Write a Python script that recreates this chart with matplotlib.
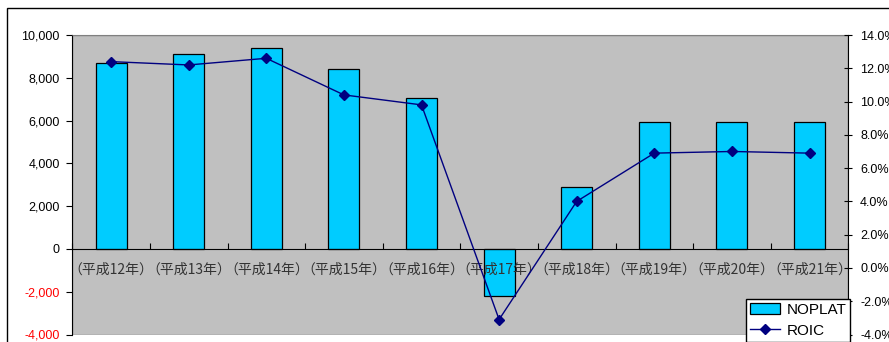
import numpy as np
import matplotlib
matplotlib.use("Agg")
import matplotlib.pyplot as plt
from matplotlib.patches import Rectangle
from matplotlib.lines import Line2D

plt.rcParams['font.family'] = ['Liberation Sans', 'Noto Sans CJK JP', 'DejaVu Sans']

# データ
years = ['（平成12年）', '（平成13年）', '（平成14年）', '（平成15年）', '（平成16年）',
         '（平成17年）', '（平成18年）', '（平成19年）', '（平成20年）', '（平成21年）']
noplat = [8670, 9100, 9400, 8400, 7050, -2200, 2890, 5950, 5950, 5950]
roic = [12.4, 12.2, 12.6, 10.4, 9.8, -3.1, 4.0, 6.9, 7.0, 6.9]

left_ticks = [-4000, -2000, 0, 2000, 4000, 6000, 8000, 10000]
right_ticks = [-4, -2, 0, 2, 4, 6, 8, 10, 12, 14]

fig = plt.figure(figsize=(8.89, 3.42), dpi=100)
ax = fig.add_axes([72.3 / 889, 1 - 334.5 / 342, 776 / 889, 299.5 / 342])

x = np.arange(len(years))
ax.bar(x, noplat, width=0.4, color='#00CCFF', edgecolor='black', linewidth=0.9, zorder=2)
ax.set_xlim(-0.5, len(years) - 0.5)
ax.set_ylim(-4000, 10000)
ax.set_facecolor('#C0C0C0')

# 軸の設定（ラベルは棒の上に描く）
ax.set_axisbelow(False)
ax.spines['bottom'].set_position(('data', 0))
ax.spines['bottom'].set_zorder(4)
ax.spines['top'].set_color('#808080')
ax.spines['right'].set_visible(False)
ax.set_xticks(x)
ax.set_xticklabels(years, fontsize=10, color='#333333', family=['Noto Sans CJK JP'])
ax.set_xticks(np.arange(len(years) + 1) - 0.5, minor=True)
ax.tick_params(axis='x', which='major', length=0, pad=10)
ax.tick_params(axis='x', which='minor', direction='in', length=4, width=0.8)

ax.set_yticks(left_ticks)
ax.set_yticklabels([f'{v:,}' for v in left_ticks], fontsize=9)
for lab, v in zip(ax.get_yticklabels(), left_ticks):
    lab.set_color('red' if v < 0 else 'black')
ax.tick_params(axis='y', direction='out', length=4, width=0.8, pad=5)

# 下の枠線
ax.add_patch(Rectangle((0, 0), 1, 1, transform=ax.transAxes, fill=False,
                       edgecolor='#808080', linewidth=1, zorder=0.5))

ax2 = ax.twinx()
ax2.plot(x, roic, color='#000080', marker='D', markersize=5, linewidth=1)
ax2.set_ylim(-4, 14)
ax2.set_yticks(right_ticks)
ax2.set_yticklabels([f'{v:.1f}%' for v in right_ticks], fontsize=9)
ax2.tick_params(axis='y', direction='inout', length=6, width=0.8, pad=5.5)
for s in ['top', 'left', 'bottom']:
    ax2.spines[s].set_visible(False)
ax2.spines['right'].set_color('black')

# 凡例
handles = [Rectangle((0, 0), 1, 1, facecolor='#00CCFF', edgecolor='black', linewidth=0.9),
           Line2D([], [], color='#000080', marker='D', markersize=5, linewidth=1)]
leg = fig.legend(handles, ['NOPLAT', 'ROIC'], loc='upper left',
                 bbox_to_anchor=(746 / 889, 1 - 299 / 342), fontsize=11,
                 fancybox=False, framealpha=1, edgecolor='black',
                 borderaxespad=0, handlelength=2.0, handletextpad=0.4,
                 borderpad=0.25, labelspacing=0.45)
leg.get_frame().set_linewidth(1)

# 外枠
fig.add_artist(Rectangle((7 / 889, -0.1), 1.2, 1 - 8 / 342 + 0.1, transform=fig.transFigure,
                         fill=False, edgecolor='black', linewidth=1))

fig.savefig('out.png', dpi=100)
